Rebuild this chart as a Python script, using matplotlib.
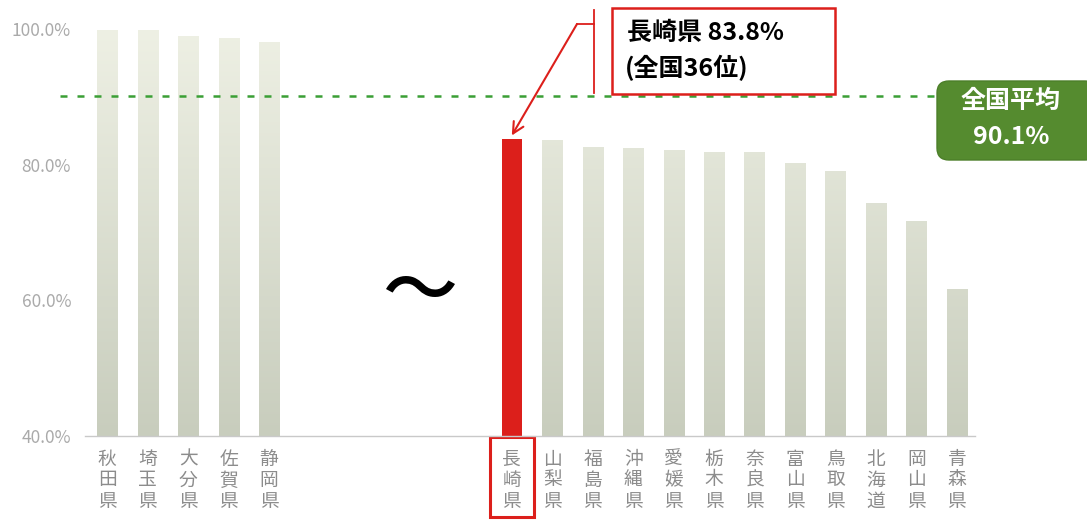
import matplotlib
matplotlib.use("Agg")
import matplotlib.pyplot as plt
import numpy as np
from matplotlib.colors import LinearSegmentedColormap
from matplotlib.lines import Line2D
from matplotlib.patches import Rectangle, FancyBboxPatch
from matplotlib.transforms import IdentityTransform, blended_transform_factory

plt.rcParams["font.family"] = ["Noto Sans CJK JP", "DejaVu Sans"]

# upper group (top 5) and lower group (rank 36 onward)
top_prefs = ["秋田県", "埼玉県", "大分県", "佐賀県", "静岡県"]
top_rates = [99.9, 99.9, 98.9, 98.7, 98.1]

low_prefs = ["長崎県", "山梨県", "福島県", "沖縄県", "愛媛県", "栃木県",
             "奈良県", "富山県", "鳥取県", "北海道", "岡山県", "青森県"]
low_rates = [83.8, 83.7, 82.6, 82.4, 82.1, 81.9, 81.8, 80.3, 79.1, 74.3, 71.7, 61.7]

highlight = "長崎県"
highlight_rank = 36
national_avg = 90.1
yticks = [40, 60, 80, 100]

W, H = 1087, 520
RED = "#dc1f1b"
GREEN_LINE = "#3a9f35"
GREEN_BOX = "#558b2f"

prefs = top_prefs + low_prefs
rates = top_rates + low_rates
gap = 6
xpos = np.concatenate([np.arange(len(top_prefs)),
                       np.arange(len(low_prefs)) + len(top_prefs) - 1 + gap])

fig = plt.figure(figsize=(W / 100, H / 100), dpi=100)
ax = fig.add_axes([85 / W, 84 / H, 890 / W, 407 / H])

bar_cmap = LinearSegmentedColormap.from_list("paper", ["#c8cdbd", "#eef0e4"])
grad = np.linspace(0, 1, 256).reshape(-1, 1)

bars = ax.bar(xpos, np.array(rates) - 40, bottom=40, width=0.5,
              color="none", edgecolor="none")
for bar, name in zip(bars, prefs):
    if name == highlight:
        bar.set_facecolor(RED)
        continue
    im = ax.imshow(grad, extent=[-1, 22, 40, 100], origin="lower",
                   cmap=bar_cmap, aspect="auto", zorder=1)
    im.set_clip_path(bar)

ax.set_xlim(-0.55, 21.45)
ax.set_ylim(40, 100)

# axis styling
for side in ["top", "right", "left"]:
    ax.spines[side].set_visible(False)
ax.spines["bottom"].set_color("#c9c9c9")
ax.spines["bottom"].set_linewidth(1)
ax.set_yticks(yticks)
ax.set_yticklabels([f"{v:.1f}%" for v in yticks])
ax.tick_params(axis="y", length=0, pad=10, labelsize=12.5, labelcolor="#aaaaaa")
ax.set_xticks(xpos)
ax.set_xticklabels(["\n".join(p) for p in prefs], linespacing=1.0)
ax.tick_params(axis="x", length=0, pad=9, labelsize=13.5, labelcolor="#8c8c8c")

# break mark between the two groups
ax.text(7.75, 61.0, "〜", fontsize=54, fontweight="medium", ha="center",
        va="center", color="black")

# national average line
ax.plot([-1.16, 20.5], [national_avg, national_avg], color=GREEN_LINE, lw=1.8,
        dashes=(2.8, 4), clip_on=False, zorder=3)

# box around the highlighted tick label
hx = xpos[prefs.index(highlight)]
blend = blended_transform_factory(ax.transData, ax.transAxes)
ax.add_patch(Rectangle((hx - 0.55, -0.199), 1.1, 0.196, transform=blend,
                       fill=False, edgecolor=RED, lw=2.2, clip_on=False))

# callout for the highlighted prefecture
fig.add_artist(Rectangle((612, H - 94), 223, 86, transform=IdentityTransform(),
                         fill=False, edgecolor=RED, lw=1.8))
fig.text(627 / W, 1 - 33 / H, f"{highlight} {low_rates[0]}%", fontsize=18,
         fontweight="bold", ha="left", va="center", color="black")
fig.text(625 / W, 1 - 68 / H, f"(全国{highlight_rank}位)", fontsize=18,
         fontweight="bold", ha="left", va="center", color="black")
fig.add_artist(Line2D([594 / W, 594 / W], [1 - 10 / H, 1 - 93 / H],
                      transform=fig.transFigure, color=RED, lw=1.3))
fig.add_artist(Line2D([577 / W, 594 / W], [1 - 24 / H, 1 - 24 / H],
                      transform=fig.transFigure, color=RED, lw=1.3))
ax.annotate("", xy=(hx, low_rates[0] + 0.5), xycoords="data",
            xytext=(577 / W, 1 - 24 / H), textcoords="figure fraction",
            arrowprops=dict(arrowstyle="->,head_length=0.8,head_width=0.4",
                            color=RED, lw=1.5, shrinkA=0, shrinkB=0))

# national average badge
fig.add_artist(FancyBboxPatch((937, H - 160), 160, 79, transform=IdentityTransform(),
                              boxstyle="round,pad=0,rounding_size=12",
                              facecolor=GREEN_BOX, edgecolor="#4c7f29", lw=1))
fig.text(1011 / W, 1 - 101 / H, "全国平均", fontsize=18, fontweight="bold",
         ha="center", va="center", color="white")
fig.text(1011 / W, 1 - 137 / H, f"{national_avg}%", fontsize=18, fontweight="bold",
         ha="center", va="center", color="white")

fig.savefig("out.png", dpi=100)
